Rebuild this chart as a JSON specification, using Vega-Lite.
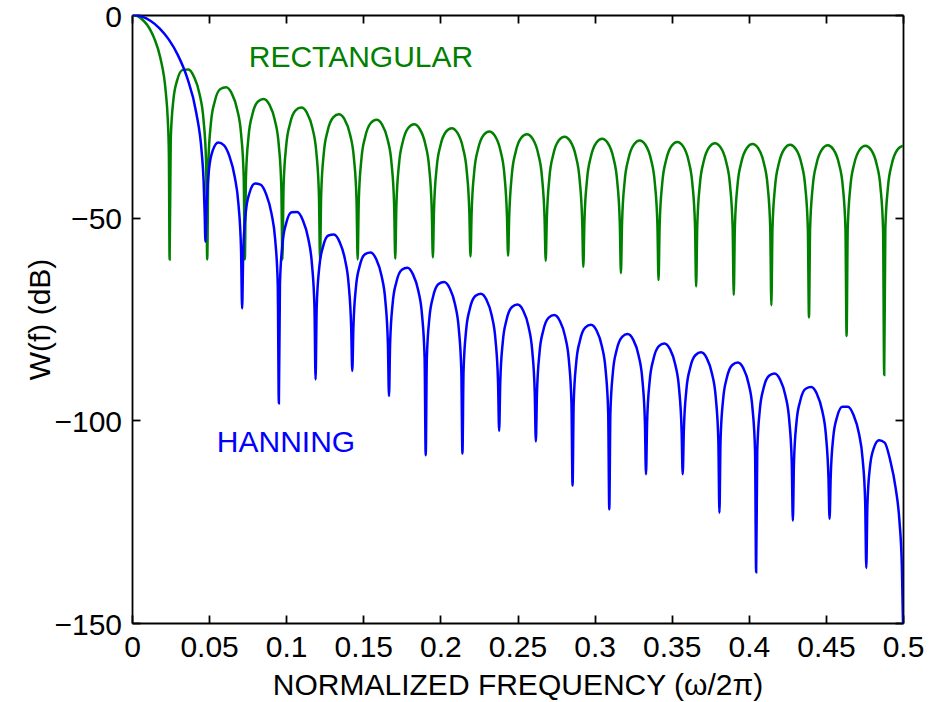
{
  "$schema": "https://vega.github.io/schema/vega-lite/v6.json",
  "autosize": {"type": "none"},
  "padding": {"left": 132, "top": 15, "right": 29, "bottom": 79},
  "width": 771,
  "height": 608,
  "background": "white",
  "config": {
    "view": {"stroke": null},
    "axis": {
      "domainColor": "black", "tickColor": "black", "labelColor": "black", "titleColor": "black",
      "labelFont": "Liberation Sans", "titleFont": "Liberation Sans",
      "labelFontSize": 30, "titleFontSize": 30, "titleFontWeight": "normal",
      "tickSize": -8, "grid": false, "domainWidth": 1.8, "tickWidth": 1.8,
      "labelFlush": false, "labelOverlap": false
    }
  },
  "datasets": {
    "rect": [
      {"f":0,"d":0},{"f":0.00244,"d":-0.14},{"f":0.0061,"d":-0.92},{"f":0.00976,"d":-2.42},{"f":0.0122,"d":-3.92},{"f":0.01463,"d":-5.94},{"f":0.01829,"d":-10.45},{"f":0.02195,"d":-19.22},{"f":0.02317,"d":-25.6},{"f":0.0239,"d":-33.8},
      {"f":0.02439,"d":-60.3},{"f":0.02512,"d":-30.73},{"f":0.02683,"d":-20.97},{"f":0.02927,"d":-16.14},{"f":0.03293,"d":-13.54},{"f":0.03659,"d":-13.45},{"f":0.04024,"d":-15.27},{"f":0.0439,"d":-19.65},{"f":0.04634,"d":-25.69},{"f":0.04805,"d":-36.33},
      {"f":0.04878,"d":-60.3},{"f":0.04951,"d":-36.58},{"f":0.05122,"d":-26.51},{"f":0.05366,"d":-21.32},{"f":0.05732,"d":-18.27},{"f":0.06098,"d":-17.85},{"f":0.06463,"d":-19.32},{"f":0.06829,"d":-23.41},{"f":0.07073,"d":-29.3},{"f":0.07244,"d":-39.85},
      {"f":0.07317,"d":-60.3},{"f":0.0739,"d":-40.02},{"f":0.07561,"d":-29.87},{"f":0.07805,"d":-24.55},{"f":0.08171,"d":-21.33},{"f":0.08537,"d":-20.72},{"f":0.08902,"d":-22.06},{"f":0.09268,"d":-26.02},{"f":0.09512,"d":-31.82},{"f":0.09683,"d":-42.31},
      {"f":0.09756,"d":-60.3},{"f":0.09829,"d":-42.44},{"f":0.1,"d":-32.25},{"f":0.10244,"d":-26.87},{"f":0.1061,"d":-23.54},{"f":0.10976,"d":-22.84},{"f":0.11341,"d":-24.1},{"f":0.11707,"d":-27.98},{"f":0.11951,"d":-33.74},{"f":0.12122,"d":-44.19},
      {"f":0.12195,"d":-60.3},{"f":0.12268,"d":-44.29},{"f":0.12439,"d":-34.07},{"f":0.12683,"d":-28.65},{"f":0.13049,"d":-25.26},{"f":0.13415,"d":-24.5},{"f":0.1378,"d":-25.71},{"f":0.14146,"d":-29.54},{"f":0.1439,"d":-35.26},{"f":0.14561,"d":-45.69},
      {"f":0.14634,"d":-60.3},{"f":0.14707,"d":-45.77},{"f":0.14878,"d":-35.53},{"f":0.15122,"d":-30.08},{"f":0.15488,"d":-26.65},{"f":0.15854,"d":-25.84},{"f":0.1622,"d":-27.02},{"f":0.16585,"d":-30.81},{"f":0.16829,"d":-36.51},{"f":0.17,"d":-46.92},
      {"f":0.17073,"d":-60.1},{"f":0.17146,"d":-46.99},{"f":0.17317,"d":-36.74},{"f":0.17561,"d":-31.27},{"f":0.17927,"d":-27.81},{"f":0.18293,"d":-26.97},{"f":0.18659,"d":-28.12},{"f":0.19024,"d":-31.88},{"f":0.19268,"d":-37.56},{"f":0.19439,"d":-47.96},
      {"f":0.19512,"d":-59.8},{"f":0.19585,"d":-48.02},{"f":0.19756,"d":-37.75},{"f":0.2,"d":-32.26},{"f":0.20366,"d":-28.78},{"f":0.20732,"d":-27.92},{"f":0.21098,"d":-29.04},{"f":0.21463,"d":-32.79},{"f":0.21707,"d":-38.45},{"f":0.21878,"d":-48.84},
      {"f":0.21951,"d":-59.6},{"f":0.22024,"d":-48.88},{"f":0.22195,"d":-38.61},{"f":0.22439,"d":-33.11},{"f":0.22805,"d":-29.6},{"f":0.23171,"d":-28.72},{"f":0.23537,"d":-29.83},{"f":0.23902,"d":-33.56},{"f":0.24146,"d":-39.21},{"f":0.24317,"d":-49.59},
      {"f":0.2439,"d":-59.4},{"f":0.24463,"d":-49.63},{"f":0.24634,"d":-39.35},{"f":0.24878,"d":-33.83},{"f":0.25244,"d":-30.31},{"f":0.2561,"d":-29.41},{"f":0.25976,"d":-30.5},{"f":0.26341,"d":-34.22},{"f":0.26585,"d":-39.86},{"f":0.26756,"d":-50.23},
      {"f":0.26829,"d":-60.6},{"f":0.26902,"d":-50.27},{"f":0.27073,"d":-39.98},{"f":0.27317,"d":-34.46},{"f":0.27683,"d":-30.92},{"f":0.28049,"d":-30.01},{"f":0.28415,"d":-31.09},{"f":0.2878,"d":-34.79},{"f":0.29024,"d":-40.42},{"f":0.29195,"d":-50.78},
      {"f":0.29268,"d":-62.1},{"f":0.29341,"d":-50.81},{"f":0.29512,"d":-40.52},{"f":0.29756,"d":-34.99},{"f":0.30122,"d":-31.44},{"f":0.30488,"d":-30.51},{"f":0.30854,"d":-31.58},{"f":0.3122,"d":-35.27},{"f":0.31463,"d":-40.89},{"f":0.31634,"d":-51.26},
      {"f":0.31707,"d":-63.7},{"f":0.3178,"d":-51.28},{"f":0.31951,"d":-40.98},{"f":0.32195,"d":-35.44},{"f":0.32561,"d":-31.88},{"f":0.32927,"d":-30.94},{"f":0.33293,"d":-32},{"f":0.33659,"d":-35.68},{"f":0.33902,"d":-41.3},{"f":0.34073,"d":-51.66},
      {"f":0.34146,"d":-65.4},{"f":0.34219,"d":-51.68},{"f":0.3439,"d":-41.37},{"f":0.34634,"d":-35.83},{"f":0.35,"d":-32.26},{"f":0.35366,"d":-31.31},{"f":0.35732,"d":-32.36},{"f":0.36098,"d":-36.03},{"f":0.36341,"d":-41.64},{"f":0.36512,"d":-51.99},
      {"f":0.36585,"d":-67},{"f":0.36658,"d":-52.01},{"f":0.36829,"d":-41.7},{"f":0.37073,"d":-36.15},{"f":0.37439,"d":-32.57},{"f":0.37805,"d":-31.61},{"f":0.38171,"d":-32.65},{"f":0.38537,"d":-36.3},{"f":0.3878,"d":-41.91},{"f":0.38951,"d":-52.25},
      {"f":0.39024,"d":-69.1},{"f":0.39097,"d":-52.27},{"f":0.39268,"d":-41.95},{"f":0.39512,"d":-36.4},{"f":0.39878,"d":-32.81},{"f":0.40244,"d":-31.85},{"f":0.4061,"d":-32.88},{"f":0.40976,"d":-36.52},{"f":0.4122,"d":-42.12},{"f":0.4139,"d":-52.46},
      {"f":0.41463,"d":-71.6},{"f":0.41537,"d":-52.48},{"f":0.41707,"d":-42.16},{"f":0.41951,"d":-36.6},{"f":0.42317,"d":-33},{"f":0.42683,"d":-32.03},{"f":0.43049,"d":-33.05},{"f":0.43415,"d":-36.69},{"f":0.43659,"d":-42.29},{"f":0.43829,"d":-52.63},
      {"f":0.43902,"d":-74.6},{"f":0.43976,"d":-52.63},{"f":0.44146,"d":-42.31},{"f":0.4439,"d":-36.74},{"f":0.44756,"d":-33.14},{"f":0.45122,"d":-32.16},{"f":0.45488,"d":-33.17},{"f":0.45854,"d":-36.8},{"f":0.46098,"d":-42.39},{"f":0.46268,"d":-52.73},
      {"f":0.46341,"d":-79.2},{"f":0.46415,"d":-52.73},{"f":0.46585,"d":-42.41},{"f":0.46829,"d":-36.83},{"f":0.47195,"d":-33.22},{"f":0.47561,"d":-32.23},{"f":0.47927,"d":-33.24},{"f":0.48293,"d":-36.86},{"f":0.48537,"d":-42.45},{"f":0.48707,"d":-52.78},
      {"f":0.4878,"d":-88.8},{"f":0.48854,"d":-52.79},{"f":0.49024,"d":-42.46},{"f":0.49268,"d":-36.88},{"f":0.49634,"d":-33.26},{"f":0.5,"d":-32.26}
    ],
    "hann": [
      {"f":0,"d":0},{"f":0.00595,"d":-0.35},{"f":0.0119,"d":-1.42},{"f":0.01786,"d":-3.27},{"f":0.02381,"d":-6.02},{"f":0.02976,"d":-9.89},{"f":0.03571,"d":-15.4},{"f":0.04167,"d":-24.1},{"f":0.04524,"d":-34.05},{"f":0.04643,"d":-40.8},{"f":0.04714,"d":-49.2},
      {"f":0.04762,"d":-55.9},{"f":0.04833,"d":-47.46},{"f":0.05,"d":-37.9},{"f":0.05238,"d":-33.42},{"f":0.05595,"d":-31.45},{"f":0.05952,"d":-32.1},{"f":0.0631,"d":-34.75},{"f":0.06667,"d":-40.02},{"f":0.06905,"d":-46.7},{"f":0.07071,"d":-57.8},
      {"f":0.07143,"d":-72.4},{"f":0.07214,"d":-58.37},{"f":0.07381,"d":-48.64},{"f":0.07619,"d":-43.91},{"f":0.07976,"d":-41.57},{"f":0.08333,"d":-41.84},{"f":0.0869,"d":-44.12},{"f":0.09048,"d":-49.01},{"f":0.09286,"d":-55.44},{"f":0.09452,"d":-66.37},
      {"f":0.09524,"d":-95.8},{"f":0.09595,"d":-66.2},{"f":0.09762,"d":-56.31},{"f":0.1,"d":-51.36},{"f":0.10357,"d":-48.69},{"f":0.10714,"d":-48.63},{"f":0.11071,"d":-50.58},{"f":0.11429,"d":-55.14},{"f":0.11667,"d":-61.35},{"f":0.11833,"d":-72.12},
      {"f":0.11905,"d":-89.9},{"f":0.11976,"d":-72.31},{"f":0.12143,"d":-62.33},{"f":0.12381,"d":-57.26},{"f":0.12738,"d":-54.39},{"f":0.13095,"d":-54.15},{"f":0.13452,"d":-55.91},{"f":0.1381,"d":-60.29},{"f":0.14048,"d":-66.37},{"f":0.14214,"d":-77.05},
      {"f":0.14286,"d":-87.8},{"f":0.14357,"d":-77.18},{"f":0.14524,"d":-67.14},{"f":0.14762,"d":-61.98},{"f":0.15119,"d":-58.98},{"f":0.15476,"d":-58.6},{"f":0.15833,"d":-60.22},{"f":0.1619,"d":-64.47},{"f":0.16429,"d":-70.46},{"f":0.16595,"d":-81.08},
      {"f":0.16667,"d":-94},{"f":0.16738,"d":-81.19},{"f":0.16905,"d":-71.12},{"f":0.17143,"d":-65.91},{"f":0.175,"d":-62.83},{"f":0.17857,"d":-62.38},{"f":0.18214,"d":-63.93},{"f":0.18571,"d":-68.1},{"f":0.1881,"d":-74.04},{"f":0.18976,"d":-84.63},
      {"f":0.19048,"d":-108.6},{"f":0.19119,"d":-84.89},{"f":0.19286,"d":-74.78},{"f":0.19524,"d":-69.52},{"f":0.19881,"d":-66.38},{"f":0.20238,"d":-65.86},{"f":0.20595,"d":-67.34},{"f":0.20952,"d":-71.44},{"f":0.2119,"d":-77.34},{"f":0.21357,"d":-87.89},
      {"f":0.21429,"d":-108.2},{"f":0.215,"d":-87.96},{"f":0.21667,"d":-77.83},{"f":0.21905,"d":-72.53},{"f":0.22262,"d":-69.33},{"f":0.22619,"d":-68.75},{"f":0.22976,"d":-70.17},{"f":0.23333,"d":-74.21},{"f":0.23571,"d":-80.07},{"f":0.23738,"d":-90.6},
      {"f":0.2381,"d":-102.6},{"f":0.23881,"d":-90.72},{"f":0.24048,"d":-80.58},{"f":0.24286,"d":-75.27},{"f":0.24643,"d":-72.04},{"f":0.25,"d":-71.44},{"f":0.25357,"d":-72.84},{"f":0.25714,"d":-76.86},{"f":0.25952,"d":-82.7},{"f":0.26119,"d":-93.22},
      {"f":0.2619,"d":-105.2},{"f":0.26262,"d":-93.4},{"f":0.26429,"d":-83.24},{"f":0.26667,"d":-77.91},{"f":0.27024,"d":-74.67},{"f":0.27381,"d":-74.04},{"f":0.27738,"d":-75.42},{"f":0.28095,"d":-79.41},{"f":0.28333,"d":-85.24},{"f":0.285,"d":-95.75},
      {"f":0.28571,"d":-116.1},{"f":0.28643,"d":-95.86},{"f":0.2881,"d":-85.69},{"f":0.29048,"d":-80.35},{"f":0.29405,"d":-77.08},{"f":0.29762,"d":-76.43},{"f":0.30119,"d":-77.78},{"f":0.30476,"d":-81.76},{"f":0.30714,"d":-87.57},{"f":0.30881,"d":-98.06},
      {"f":0.30952,"d":-122},{"f":0.31024,"d":-98.18},{"f":0.3119,"d":-88.01},{"f":0.31429,"d":-82.66},{"f":0.31786,"d":-79.39},{"f":0.32143,"d":-78.73},{"f":0.325,"d":-80.08},{"f":0.32857,"d":-84.04},{"f":0.33095,"d":-89.85},{"f":0.33262,"d":-100.34},
      {"f":0.33333,"d":-113.3},{"f":0.33405,"d":-100.5},{"f":0.33571,"d":-90.33},{"f":0.3381,"d":-84.98},{"f":0.34167,"d":-81.69},{"f":0.34524,"d":-81.03},{"f":0.34881,"d":-82.37},{"f":0.35238,"d":-86.33},{"f":0.35476,"d":-92.13},{"f":0.35643,"d":-102.62},
      {"f":0.35714,"d":-113.3},{"f":0.35786,"d":-102.66},{"f":0.35952,"d":-92.49},{"f":0.3619,"d":-87.15},{"f":0.36548,"d":-83.88},{"f":0.36905,"d":-83.23},{"f":0.37262,"d":-84.58},{"f":0.37619,"d":-88.56},{"f":0.37857,"d":-94.37},{"f":0.38024,"d":-104.86},
      {"f":0.38095,"d":-122.8},{"f":0.38167,"d":-105.05},{"f":0.38333,"d":-94.9},{"f":0.38571,"d":-89.58},{"f":0.38929,"d":-86.35},{"f":0.39286,"d":-85.74},{"f":0.39643,"d":-87.13},{"f":0.4,"d":-91.14},{"f":0.40238,"d":-96.98},{"f":0.40405,"d":-107.49},
      {"f":0.40476,"d":-137.5},{"f":0.40548,"d":-107.57},{"f":0.40714,"d":-97.45},{"f":0.40952,"d":-92.17},{"f":0.4131,"d":-89},{"f":0.41667,"d":-88.45},{"f":0.42024,"d":-89.9},{"f":0.42381,"d":-93.97},{"f":0.42619,"d":-99.85},{"f":0.42786,"d":-110.39},
      {"f":0.42857,"d":-124.8},{"f":0.42929,"d":-110.45},{"f":0.43095,"d":-100.4},{"f":0.43333,"d":-95.22},{"f":0.4369,"d":-92.2},{"f":0.44048,"d":-91.8},{"f":0.44405,"d":-93.4},{"f":0.44762,"d":-97.62},{"f":0.45,"d":-103.6},{"f":0.45167,"d":-114.21},
      {"f":0.45238,"d":-124.3},{"f":0.4531,"d":-114.08},{"f":0.45476,"d":-104.21},{"f":0.45714,"d":-99.29},{"f":0.46071,"d":-96.66},{"f":0.46429,"d":-96.65},{"f":0.46786,"d":-98.64},{"f":0.47143,"d":-103.25},{"f":0.47381,"d":-109.49},{"f":0.47548,"d":-120.28},
      {"f":0.47619,"d":-136.4},{"f":0.4769,"d":-121.1},{"f":0.47857,"d":-111.5},{"f":0.48095,"d":-106.97},{"f":0.48452,"d":-104.93},{"f":0.4881,"d":-105.5},{"f":0.49167,"d":-109.8},{"f":0.49524,"d":-116.72},{"f":0.49762,"d":-124.5},{"f":0.49929,"d":-136.37},{"f":0.5,"d":-150}
    ],
    "notes": [
      {"f":0.0757,"d":-12.9,"t":"RECTANGULAR","s":"R"},
      {"f":0.055,"d":-107.9,"t":"HANNING","s":"H"}
    ]
  },
  "layer": [
    {
      "data": {"name": "rect"},
      "mark": {"type": "line", "color": "#008000", "strokeWidth": 2.5, "interpolate": "monotone", "clip": true},
      "encoding": {
        "x": {"field": "f", "type": "quantitative", "scale": {"domain": [0, 0.5], "nice": false, "zero": false},
          "axis": {"orient": "bottom", "values": [0,0.05,0.1,0.15,0.2,0.25,0.3,0.35,0.4,0.45,0.5], "format": "~g", "labelPadding": 17.5,
            "title": "NORMALIZED FREQUENCY (ω/2π)", "titleX": 385.5, "titleY": 47}},
        "y": {"field": "d", "type": "quantitative", "scale": {"domain": [-150, 0], "nice": false, "zero": false},
          "axis": {"orient": "left", "values": [-150,-100,-50,0], "format": "d", "labelPadding": 18.5, "labelOffset": 2,
            "title": "W(f) (dB)", "titleX": -77, "titleY": 304}}
      }
    },
    {
      "data": {"name": "hann"},
      "mark": {"type": "line", "color": "#0000ff", "strokeWidth": 2.5, "interpolate": "monotone", "clip": true},
      "encoding": {
        "x": {"field": "f", "type": "quantitative", "scale": {"domain": [0, 0.5], "nice": false, "zero": false}, "axis": null},
        "y": {"field": "d", "type": "quantitative", "scale": {"domain": [-150, 0], "nice": false, "zero": false}, "axis": null}
      }
    },
    {
      "data": {"name": "notes"},
      "mark": {"type": "text", "align": "left", "baseline": "alphabetic", "font": "Liberation Sans", "fontSize": 30},
      "encoding": {
        "x": {"field": "f", "type": "quantitative", "scale": {"domain": [0, 0.5], "nice": false, "zero": false},
          "axis": {"orient": "top", "values": [0,0.05,0.1,0.15,0.2,0.25,0.3,0.35,0.4,0.45,0.5], "labels": false, "title": null}},
        "y": {"field": "d", "type": "quantitative", "scale": {"domain": [-150, 0], "nice": false, "zero": false},
          "axis": {"orient": "right", "values": [-150,-100,-50,0], "labels": false, "title": null}},
        "text": {"field": "t"},
        "color": {"field": "s", "type": "nominal", "scale": {"domain": ["R", "H"], "range": ["#008000", "#0000ff"]}, "legend": null}
      }
    }
  ],
  "resolve": {"axis": {"x": "independent", "y": "independent"}}
}
